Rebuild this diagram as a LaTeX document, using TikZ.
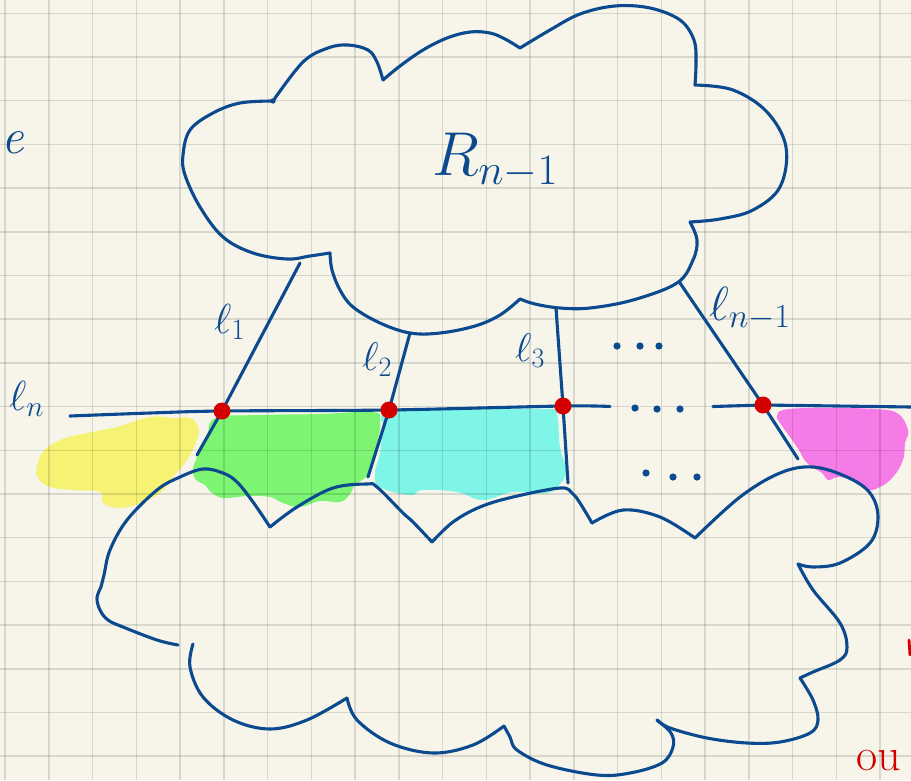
\RequirePackage{fix-cm}
\documentclass[tikz,border=0pt]{standalone}
\usepackage{tikz}
\definecolor{paper}{HTML}{F7F5EA}
\definecolor{ink}{HTML}{0B4A8F}
\definecolor{dotred}{HTML}{D40000}
\definecolor{hlyellow}{HTML}{F6F374}
\definecolor{hlgreen}{HTML}{7DF573}
\definecolor{hlcyan}{HTML}{7EF5E7}
\definecolor{hlpink}{HTML}{F57BE6}
\begin{document}
\begin{tikzpicture}[x=1pt,y=-1pt,
  pen/.style={draw=ink,line width=3.1pt,line cap=round,line join=round},
  gridline/.style={draw=black,draw opacity=0.12,line width=1.5pt},
  lobe/.style={pen,smooth,tension=0.6},
  hl/.style={smooth cycle,tension=0.7},
  crossing/.style={fill=dotred},
  ellip/.style={fill=ink},
  lab/.style={text=ink,inner sep=0pt,anchor=base west},
]
\useasboundingbox (0,0) rectangle (911,780);
\clip (0,0) rectangle (911,780);
\fill[paper] (0,0) rectangle (911,780);

% ---------- highlighter blobs ----------
\fill[hlyellow] plot[hl] coordinates {(37,467) (43,452) (60,440) (87,433) (117,427) (150,417) (173,418) (190,418) (198,427) (197,440) (187,460) (173,477) (160,493) (140,503) (120,508) (103,503) (100,492) (73,490) (50,487) (38,478)};
\fill[hlgreen] plot[hl] coordinates {(216,418) (260,415) (320,414) (372,412) (380,420) (378,440) (374,460) (368,475) (355,485) (350,494) (340,502) (320,501) (300,507) (283,503) (270,497) (250,496) (237,497) (223,498) (212,493) (205,485) (196,480) (193,470) (198,455) (207,435)};
\fill[hlcyan] plot[hl] coordinates {(387,413) (450,410) (550,409) (557,414) (560,447) (566,470) (560,484) (547,493) (513,492) (483,500) (457,492) (423,490) (410,495) (380,487) (375,473) (380,453) (383,427)};
\fill[hlpink] plot[hl] coordinates {(783,410) (807,408) (840,408) (873,409) (897,413) (908,430) (905,443) (903,460) (893,477) (880,487) (867,490) (857,483) (840,477) (828,480) (822,473) (807,463) (797,447) (780,423) (777,416)};

% ---------- paper grid ----------
\foreach \k in {0,...,20}{\draw[gridline] ({5+43.75*\k},0) -- ({5+43.75*\k},780);}
\foreach \k in {0,...,17}{\draw[gridline] (0,{13.3+43.7*\k}) -- (911,{13.3+43.7*\k});}

% ---------- upper cloud R_{n-1} ----------
\draw[lobe] plot coordinates {(273,101) (303,62) (328,48) (348,45) (368,50) (377,62) (383,80)};
\draw[lobe] plot coordinates {(383,80) (400,66) (423,50) (447,38) (470,32) (490,33) (505,39) (520,48)};
\draw[lobe] plot coordinates {(520,48) (550,30) (580,14) (615,6) (650,8) (680,20) (694,40) (696,62) (695,85)};
\draw[lobe] plot coordinates {(695,85) (733,90) (767,112) (786,147) (780,187) (753,210) (720,219) (690,222)};
\draw[lobe] plot coordinates {(690,222) (697,240) (693,260) (677,283) (633,300) (590,308) (560,308) (535,304) (520,299)};
\draw[lobe] plot coordinates {(520,299) (500,315) (475,326) (440,333) (410,333) (380,323) (353,307) (340,290) (332,270) (330,253)};
\draw[lobe] plot coordinates {(330,253) (310,256) (287,259) (253,253) (223,237) (200,207) (185,175) (183,155) (190,130) (213,113) (240,103) (273,101)};
\fill[ink] (273,101) circle (2.7);

% ---------- lower cloud ----------
\draw[lobe] plot coordinates {(270,527) (253,502) (237,482) (223,473) (203,469) (180,477) (157,490) (127,520) (110,550) (104,575) (101,587)};
\draw[lobe] plot coordinates {(101,587) (97,598) (100,610) (108,620) (123,627) (157,640) (178,645)};
\draw[lobe] plot coordinates {(193,644) (190,667) (203,697) (233,720) (270,729) (307,720) (347,698)};
\draw[lobe] plot coordinates {(347,698) (357,720) (390,743) (433,753) (473,745) (504,726)};
\draw[lobe] plot coordinates {(504,726) (510,737) (517,750) (547,765) (597,775) (630,773) (662,763) (673,747) (671,733) (657,720)};
\draw[lobe] plot coordinates {(657,720) (670,728) (707,738) (747,743) (780,742) (810,733) (818,720) (813,700) (800,678)};
\draw[lobe] plot coordinates {(800,678) (813,672) (840,660) (847,647) (840,623) (813,590) (798,564)};
\draw[lobe] plot coordinates {(798,564) (813,567) (840,563) (870,543) (878,517) (870,493) (847,477) (813,467) (780,473) (740,497) (695,538)};
\draw[lobe] plot coordinates {(695,538) (660,517) (623,510) (592,523)};
\draw[lobe] plot coordinates {(592,523) (580,503) (572,493) (560,488) (513,497) (480,507) (453,522) (432,542)};
\draw[lobe] plot coordinates {(432,542) (413,522) (403,513) (377,487) (367,484) (333,488) (297,507) (270,527)};

% ---------- lines ----------
\coordinate (lnstart) at (70,416);
\coordinate (p1) at (222,411);
\coordinate (p2) at (389,410);
\coordinate (p3) at (563,406);
\coordinate (p4) at (763,405);
\coordinate (lngap1) at (610,406.5);
\coordinate (lngap2) at (713,406.5);
\coordinate (lnend) at (911,407);
\coordinate (l1top) at (300,263);
\coordinate (l1bot) at (197,455);
\coordinate (l2top) at (410,333);
\coordinate (l2bot) at (368,477);
\coordinate (l3top) at (556,308);
\coordinate (l3bot) at (568,483);
\coordinate (l4top) at (680,283);
\coordinate (l4bot) at (798,459);

\draw[pen] plot[smooth,tension=0.5] coordinates {(lnstart) (150,413) (p1) (p2) (p3) (lngap1)};
\draw[pen] (lngap2) -- (p4) -- (lnend);
\draw[pen] (l1top) -- (p1) -- (l1bot);
\draw[pen] (l2top) -- (p2) -- (l2bot);
\draw[pen] (l3top) -- (p3) -- (l3bot);
\draw[pen] (l4top) -- (p4) -- (l4bot);

\foreach \p in {p1,p2,p3,p4}{\fill[crossing] (\p) circle (8.5);}

% ---------- ellipsis dots ----------
\foreach \x/\y in {617/346,640/346,659/346,635/408,657/409,680/409,646/473,673/477,697/477}{\fill[ellip] (\x,\y) circle (3.6);}

% ---------- labels ----------
\node[lab] (labR) at (432,175) {\fontsize{62}{64}\selectfont $R_{n-1}$};
\node[lab] (lab1) at (214,333) {\fontsize{42}{44}\selectfont $\ell_1$};
\node[lab] (lab2) at (362,370) {\fontsize{40}{42}\selectfont $\ell_2$};
\node[lab] (lab3) at (515,361) {\fontsize{40}{42}\selectfont $\ell_3$};
\node[lab] (labn1) at (709,320) {\fontsize{48}{50}\selectfont $\ell_{n-1}$};
\node[lab] (labn) at (9,410) {\fontsize{42}{44}\selectfont $\ell_n$};
\node[text=ink,inner sep=0pt,anchor=base west] (labe) at (1,153) {\fontsize{50}{52}\selectfont\itshape e};
\node[text=dotred,inner sep=0pt,anchor=base west] (labred) at (856,770) {\fontsize{46}{48}\selectfont ou};
\draw[draw=dotred,line width=2.8pt,line cap=round] (909,640) -- (910,655);
\end{tikzpicture}
\end{document}
